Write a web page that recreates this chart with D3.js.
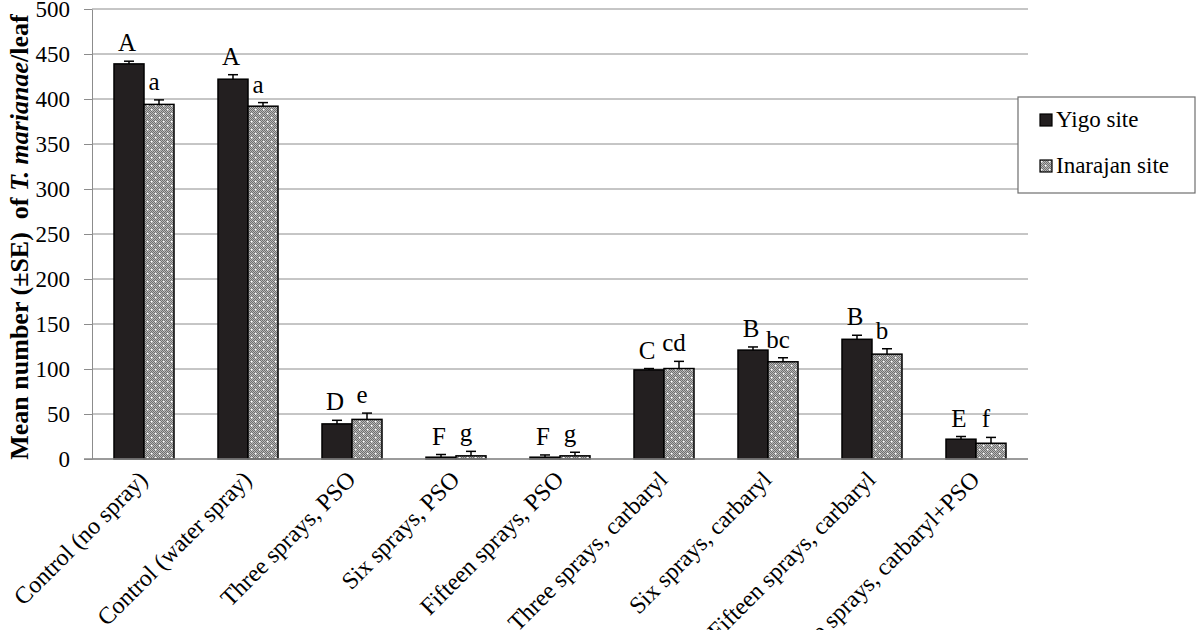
<!DOCTYPE html>
<html>
<head>
<meta charset="utf-8">
<script src="https://cdn.jsdelivr.net/npm/d3@7"></script>
</head>
<body style="margin:0">
<div class="chart"></div>
<script>
// data
const treatments = ["Control (no spray)", "Control (water spray)", "Three sprays, PSO", "Six sprays, PSO",
  "Fifteen sprays, PSO", "Three sprays, carbaryl", "Six sprays, carbaryl", "Fifteen sprays, carbaryl",
  "Three sprays, carbaryl+PSO"];
const sites = ["Yigo site", "Inarajan site"];
const yigoMean = [439, 422, 39, 2, 2, 99, 121, 133, 22];
const yigoSE = [3, 5, 4, 3, 2.5, 1.5, 3.5, 4.5, 3];
const inarajanMean = [394, 392, 44, 3.5, 3.5, 100.5, 108, 116.5, 17.5];
const inarajanSE = [5, 4, 7, 5, 4, 8, 4.5, 6, 6.5];
const yigoLetters = ["A", "A", "D", "F", "F", "C", "B", "B", "E"];
const inarajanLetters = ["a", "a", "e", "g", "g", "cd", "bc", "b", "f"];
const yTicks = [0, 50, 100, 150, 200, 250, 300, 350, 400, 450, 500];

const width = 1200, height = 630;
const plotLeft = 92, plotRight = 1028, plotTop = 9, plotBottom = 459;
const fontName = 'Liberation Serif';
const serifFont = () => `"${fontName}"`;

const svg = d3.select('.chart')
  .append('svg')
  .attr('width', width)
  .attr('height', height);

// fill patterns for the Inarajan bars
const defs = svg.append('defs');
const chk = defs.append('pattern').attr('id', 'chk')
  .attr('width', 2).attr('height', 2).attr('patternUnits', 'userSpaceOnUse');
chk.append('rect').attr('width', 2).attr('height', 2).attr('fill', '#b8b8b8');
chk.append('rect').attr('width', 1).attr('height', 1).attr('fill', '#707070');
chk.append('rect').attr('x', 1).attr('y', 1).attr('width', 1).attr('height', 1).attr('fill', '#707070');
const dots = defs.append('pattern').attr('id', 'dots')
  .attr('width', 8).attr('height', 8).attr('patternUnits', 'userSpaceOnUse');
dots.append('rect').attr('width', 8).attr('height', 8).attr('fill', 'url(#chk)');
dots.append('rect').attr('x', 1).attr('y', 1).attr('width', 1.5).attr('height', 1.5).attr('fill', '#fff');
dots.append('rect').attr('x', 5).attr('y', 5).attr('width', 1.5).attr('height', 1.5).attr('fill', '#fff');

const fills = ['#231f20', 'url(#dots)'];

const x = d3.scaleBand()
  .domain(treatments)
  .range([plotLeft, plotRight])
  .paddingInner(0.423)
  .paddingOuter(0.2115);

const xs = d3.scaleBand()
  .domain(sites)
  .range([0, x.bandwidth()]);

const y = d3.scaleLinear()
  .domain([0, 500])
  .range([plotBottom, plotTop]);

// gridlines + y axis
const yAxis = svg.append('g')
  .attr('transform', `translate(${plotLeft},0)`)
  .call(d3.axisLeft(y).tickValues(yTicks).tickSize(8).tickPadding(14).tickSizeOuter(0))
  .attr('font-family', null)
  .attr('font-size', null);
yAxis.select('.domain').attr('stroke', '#8c8c8c');
yAxis.selectAll('.tick line').attr('stroke', '#8c8c8c');
yAxis.selectAll('.tick text')
  .style('font-family', serifFont)
  .attr('font-size', 23)
  .attr('fill', '#000');

svg.append('g')
  .selectAll('line')
  .data(yTicks)
  .enter()
  .append('line')
  .attr('x1', plotLeft)
  .attr('x2', plotRight)
  .attr('y1', d => y(d))
  .attr('y2', d => y(d))
  .attr('stroke', '#8c8c8c')
  .attr('stroke-width', 1);

// bars
const rows = treatments.map((t, i) => ({
  t: t,
  vals: [
    {s: sites[0], m: yigoMean[i], se: yigoSE[i], l: yigoLetters[i]},
    {s: sites[1], m: inarajanMean[i], se: inarajanSE[i], l: inarajanLetters[i]}
  ]
}));

const groups = svg.append('g')
  .selectAll('g')
  .data(rows)
  .enter()
  .append('g')
  .attr('transform', d => `translate(${x(d.t)},0)`);

groups.selectAll('rect')
  .data(d => d.vals)
  .enter()
  .append('rect')
  .attr('x', d => xs(d.s))
  .attr('y', d => y(d.m))
  .attr('width', xs.bandwidth())
  .attr('height', d => y(0) - y(d.m))
  .attr('fill', (d, i) => fills[i])
  .attr('stroke', '#000')
  .attr('stroke-width', 1.5);

// error bars (upper only)
const err = groups.selectAll('g.err')
  .data(d => d.vals)
  .enter()
  .append('g')
  .attr('class', 'err')
  .attr('stroke', '#000')
  .attr('stroke-width', 1.5);
err.append('line')
  .attr('x1', d => xs(d.s) + xs.bandwidth() / 2)
  .attr('x2', d => xs(d.s) + xs.bandwidth() / 2)
  .attr('y1', d => y(d.m))
  .attr('y2', d => y(d.m + d.se));
err.append('line')
  .attr('x1', d => xs(d.s) + xs.bandwidth() / 2 - 5)
  .attr('x2', d => xs(d.s) + xs.bandwidth() / 2 + 5)
  .attr('y1', d => y(d.m + d.se))
  .attr('y2', d => y(d.m + d.se));

// significance letters
groups.selectAll('text')
  .data(d => d.vals)
  .enter()
  .append('text')
  .attr('x', (d, i) => xs(d.s) + xs.bandwidth() / 2 - (i == 0 ? 2 : 5))
  .attr('y', d => y(d.m + d.se) - 10)
  .attr('text-anchor', 'middle')
  .attr('font-size', 25)
  .style('font-family', serifFont)
  .text(d => d.l);

// x axis baseline
svg.append('line')
  .attr('x1', plotLeft - 8)
  .attr('x2', plotRight)
  .attr('y1', y(0))
  .attr('y2', y(0))
  .attr('stroke', '#8c8c8c')
  .attr('stroke-width', 1.5);

// category labels
svg.append('g')
  .selectAll('text')
  .data(treatments)
  .enter()
  .append('text')
  .attr('transform', d => `translate(${x(d) + x.bandwidth() / 2 + 5},${plotBottom + 22}) rotate(-45)`)
  .attr('text-anchor', 'end')
  .attr('font-size', 24)
  .style('font-family', serifFont)
  .text(d => d);

// y axis title
const title = svg.append('text')
  .attr('transform', 'translate(28,237) rotate(-90)')
  .attr('text-anchor', 'middle')
  .attr('font-size', 26)
  .attr('font-weight', 'bold')
  .style('font-family', serifFont);
title.append('tspan').text('Mean number (\u00b1SE)\u00a0 of ');
title.append('tspan').attr('font-style', 'italic').text('T. marianae');
title.append('tspan').text('/leaf');

// legend
const legend = svg.append('g').attr('transform', 'translate(1018,97)');
legend.append('rect')
  .attr('width', 177)
  .attr('height', 96)
  .attr('fill', '#fff')
  .attr('stroke', '#6e6e6e')
  .attr('stroke-width', 1.2);
const items = legend.selectAll('g')
  .data(sites)
  .enter()
  .append('g')
  .attr('transform', (d, i) => `translate(22,${17 + i * 46})`);
items.append('rect')
  .attr('width', 12)
  .attr('height', 12)
  .attr('fill', (d, i) => fills[i])
  .attr('stroke', '#000')
  .attr('stroke-width', 1.2);
items.append('text')
  .attr('x', 16)
  .attr('y', 13)
  .attr('font-size', 23)
  .style('font-family', serifFont)
  .text(d => d);
</script>
</body>
</html>
